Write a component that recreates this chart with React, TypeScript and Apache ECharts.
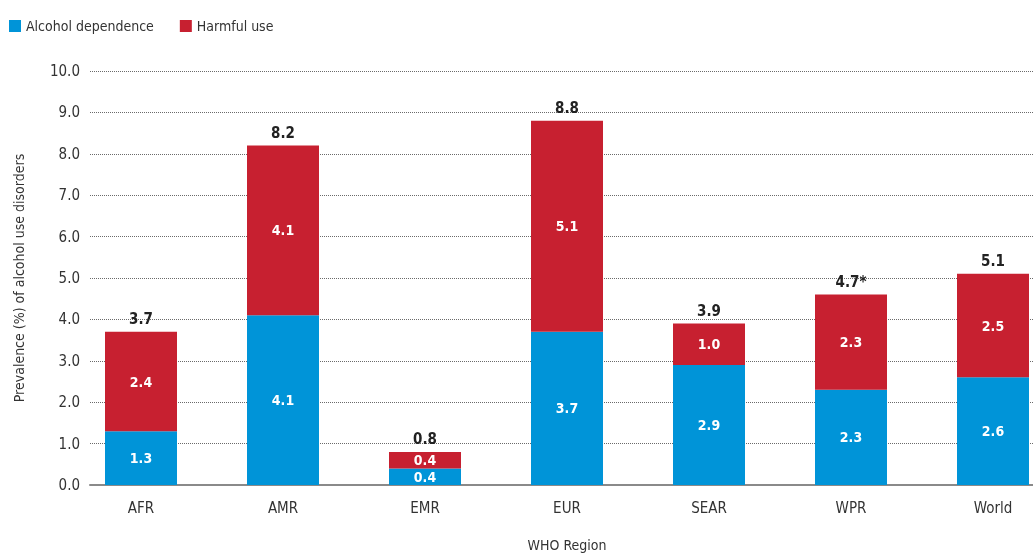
import React, { useEffect, useRef } from "react";
import * as echarts from "echarts";

const categories = ["AFR", "AMR", "EMR", "EUR", "SEAR", "WPR", "World"];
const dependence = [1.3, 4.1, 0.4, 3.7, 2.9, 2.3, 2.6];
const harmful = [2.4, 4.1, 0.4, 5.1, 1.0, 2.3, 2.5];
const totalLabels = ["3.7", "8.2", "0.8", "8.8", "3.9", "4.7*", "5.1"];
const yTicks = [0, 1, 2, 3, 4, 5, 6, 7, 8, 9, 10];

const FONT = "'Liberation Sans Narrow', 'DejaVu Sans Condensed', 'Roboto', sans-serif";
const BLUE = "#0094d8";
const RED = "#c72030";

export default function App() {
  const ref = useRef<HTMLDivElement>(null);
  useEffect(() => {
    if (!ref.current) return;
    const chart = echarts.init(ref.current, null, { renderer: "svg" });
    const innerLabel = {
      show: true,
      position: "inside",
      color: "#fff",
      fontFamily: FONT,
      fontWeight: "bold",
      fontSize: 14,
      formatter: (p: any) => Number(p.value).toFixed(1),
    };
    chart.setOption({
      animation: false,
      textStyle: { fontFamily: FONT },
      legend: {
        left: 4,
        top: 14,
        itemWidth: 12,
        itemHeight: 12,
        itemGap: 26,
        icon: "rect",
        textStyle: { fontFamily: FONT, fontSize: 14, color: "#333" },
        data: ["Alcohol dependence", "Harmful use"],
      },
      grid: [
        { left: 90, right: 0, top: 71, bottom: 68, containLabel: false, outerBoundsMode: "none" },
        { left: 70, width: 994, top: 71, bottom: 68, containLabel: false, outerBoundsMode: "none" },
      ],
      xAxis: [
        {
          type: "category",
          gridIndex: 0,
          data: categories,
          axisLine: { show: true, lineStyle: { color: "#8a8a8a", width: 2 } },
          axisTick: { show: false },
          axisLabel: { show: false },
          splitLine: { show: false },
        },
        {
          type: "category",
          gridIndex: 1,
          data: categories,
          axisLine: { show: false },
          axisTick: { show: false },
          axisLabel: { fontFamily: FONT, fontSize: 15, color: "#333", margin: 15 },
          name: "WHO Region",
          nameLocation: "middle",
          nameGap: 53,
          nameTextStyle: { fontFamily: FONT, fontSize: 14, color: "#333" },
        },
      ],
      yAxis: [
        {
          type: "value",
          gridIndex: 0,
          min: yTicks[0],
          max: yTicks[yTicks.length - 1],
          interval: 1,
          axisLine: { show: false },
          axisTick: { show: false },
          axisLabel: {
            fontFamily: FONT,
            fontSize: 15,
            color: "#333",
            margin: 10,
            formatter: (v: number) => v.toFixed(1),
          },
          splitLine: { show: true, lineStyle: { color: "#6a6a6a", type: [1, 1], width: 1 } },
          name: "Prevalence (%) of alcohol use disorders",
          nameLocation: "middle",
          nameGap: 64,
          nameTextStyle: { fontFamily: FONT, fontSize: 14, color: "#333" },
        },
        {
          type: "value",
          gridIndex: 1,
          min: yTicks[0],
          max: yTicks[yTicks.length - 1],
          interval: 1,
          show: false,
          splitLine: { show: false },
        },
      ],
      series: [
        {
          name: "Alcohol dependence",
          type: "bar",
          stack: "total",
          xAxisIndex: 1,
          yAxisIndex: 1,
          barWidth: 72,
          data: dependence,
          itemStyle: { color: BLUE },
          label: innerLabel,
        },
        {
          name: "Harmful use",
          type: "bar",
          stack: "total",
          xAxisIndex: 1,
          yAxisIndex: 1,
          barWidth: 72,
          data: harmful,
          itemStyle: { color: RED },
          label: innerLabel,
        },
        {
          name: "totals",
          type: "bar",
          stack: "total",
          xAxisIndex: 1,
          yAxisIndex: 1,
          barWidth: 72,
          data: categories.map(() => 0),
          itemStyle: { color: "transparent" },
          label: {
            show: true,
            position: "top",
            distance: 5,
            color: "#222",
            fontFamily: FONT,
            fontWeight: "bold",
            fontSize: 15,
            formatter: (p: any) => totalLabels[p.dataIndex],
          },
        },
      ],
    });
    return () => chart.dispose();
  }, []);
  return (
    <div
      ref={ref}
      style={{ position: "fixed", left: 0, top: 0, width: 1033, height: 553 }}
    />
  );
}
